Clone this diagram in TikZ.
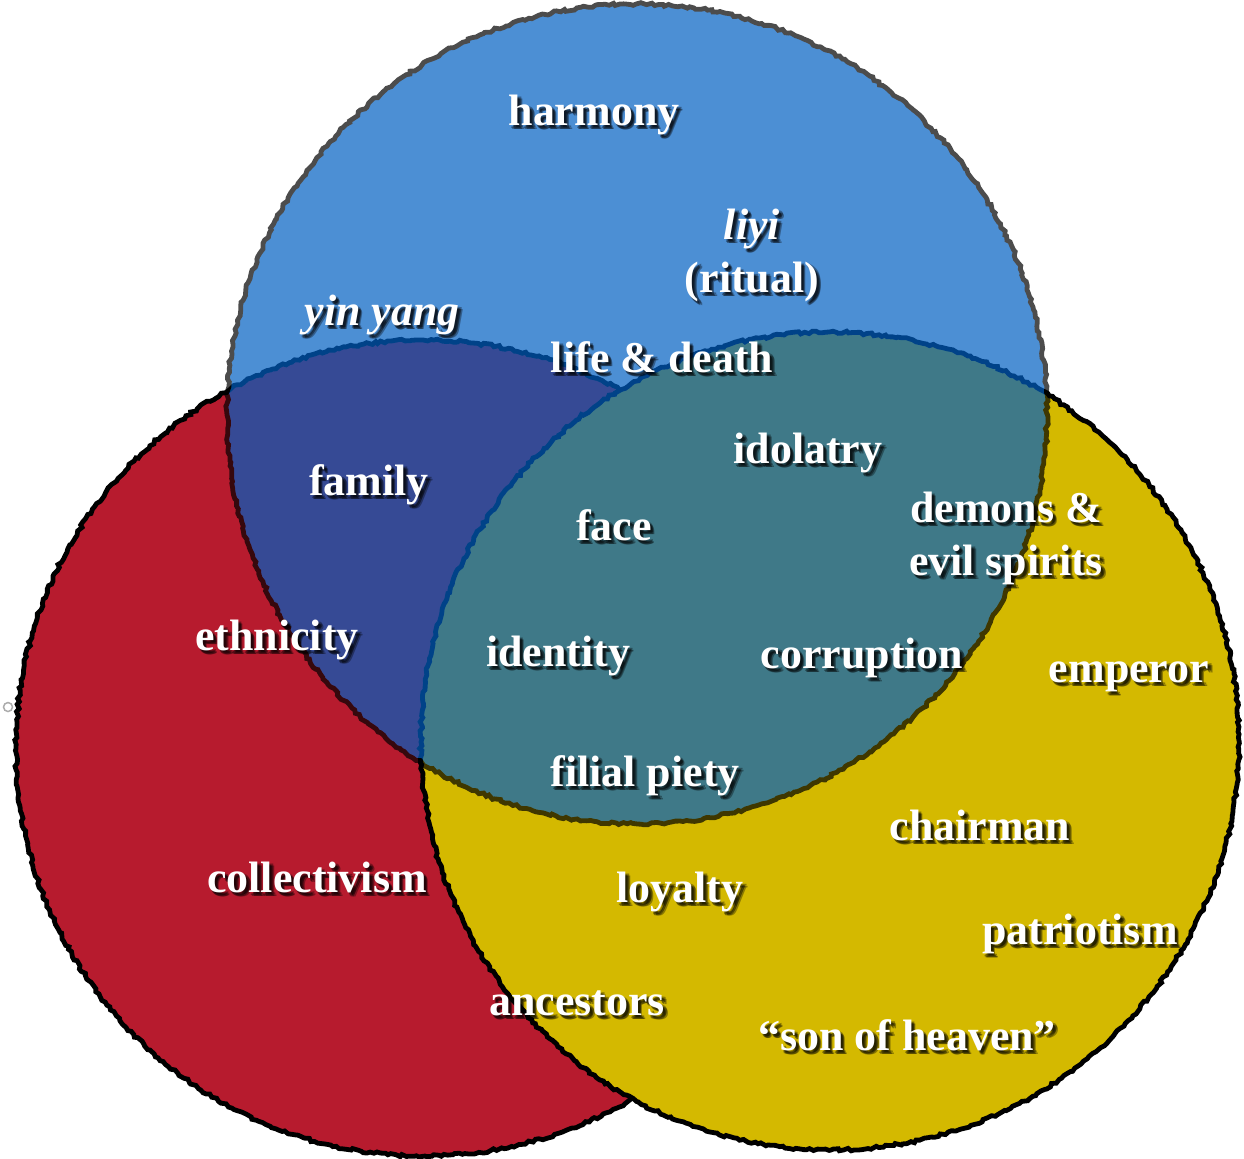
\documentclass[tikz,border=0pt]{standalone}
\usepackage{fontspec}
\setmainfont{Liberation Serif}
\usetikzlibrary{decorations.pathmorphing}

\definecolor{vennred}{RGB}{183,27,46}
\definecolor{vennyellow}{RGB}{212,185,0}
\definecolor{vennblue}{RGB}{0,95,194}

\newcommand{\vennfont}{\fontsize{12.5}{15}\selectfont\bfseries}

% white label with a soft drop shadow
\newcommand{\shadowlabel}[3]{%
    \foreach \dx/\dy [count=\k] in {0.2/-0.3, 0.35/-0.25, 0.3/-0.45, 0.45/-0.4}
        \node[lblshadow, xshift=\dx mm, yshift=\dy mm] (#1-sh\k) at (#2) {#3};
    \node[lbl] (#1) at (#2) {#3};
}

\begin{document}
\begin{tikzpicture}[x=0.1mm, y=-0.1mm,
        rim/.style={
            draw=black, line width=0.48mm, decorate,
            decoration={random steps, segment length=1pt, amplitude=0.4pt}
        },
        lbl/.style={
            text=white, font=\vennfont, anchor=base,
            align=center, inner sep=0pt
        },
        lblshadow/.style={lbl, text=black, text opacity=0.34}
    ]
    \useasboundingbox (0,0) rectangle (1244,1158);

    \coordinate (cred) at (424,748);
    \coordinate (cyellow) at (830,741);
    \coordinate (cblue) at (637,414);

    % circles
    \path[rim, fill=vennred] (cred) circle[radius=40.8mm];
    \path[rim, fill=vennyellow] (cyellow) circle[radius=40.9mm];
    \begin{scope}[transparency group, opacity=0.7]
        \path[rim, fill=vennblue] (cblue) circle[radius=41mm];
    \end{scope}

    \draw[gray!65, line width=0.15mm] (8,707) circle[radius=0.45mm];

    % labels (multi-line ones sit on their last line)
    \shadowlabel{harmony}{594,125}{harmony}
    \shadowlabel{liyi}{752,292}{\textit{liyi}\\(ritual)}
    \shadowlabel{yinyang}{382,325}{\textit{yin yang}}
    \shadowlabel{lifedeath}{662,372}{life \& death}
    \shadowlabel{idolatry}{808,463}{idolatry}
    \shadowlabel{family}{369,495}{family}
    \shadowlabel{face}{614,540}{face}
    \shadowlabel{demons}{1006,575}{demons \&\\evil spirits}
    \shadowlabel{ethnicity}{277,650}{ethnicity}
    \shadowlabel{identity}{558,666}{identity}
    \shadowlabel{corruption}{862,668}{corruption}
    \shadowlabel{emperor}{1129,682}{emperor}
    \shadowlabel{filial}{645,786}{filial piety}
    \shadowlabel{chairman}{980,840}{chairman}
    \shadowlabel{collectivism}{317,892}{collectivism}
    \shadowlabel{loyalty}{680,902}{loyalty}
    \shadowlabel{patriotism}{1080,944}{patriotism}
    \shadowlabel{ancestors}{577,1015}{ancestors}
    \shadowlabel{sonheaven}{907,1050}{“son of heaven”}
\end{tikzpicture}
\end{document}
